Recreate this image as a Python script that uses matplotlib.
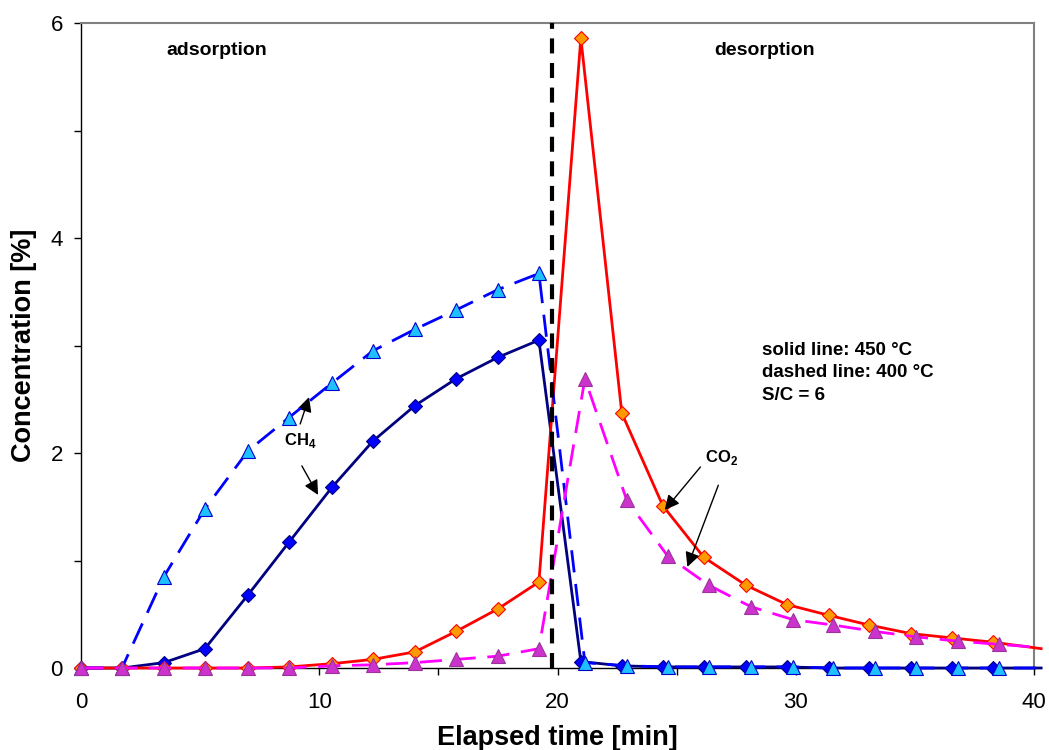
import numpy as np
import matplotlib
matplotlib.use("Agg")
import matplotlib.pyplot as plt
from matplotlib.ticker import MultipleLocator

plt.rcParams['font.family'] = ['Liberation Sans', 'DejaVu Sans']
plt.rcParams['mathtext.fontset'] = 'custom'
plt.rcParams['mathtext.rm'] = 'Liberation Sans'
plt.rcParams['mathtext.bf'] = 'Liberation Sans:bold'

# tid [min] (sista punkten ligger strax utanför x-axeln)
t_450 = [0, 1.72, 3.48, 5.20, 7.01, 8.73, 10.53, 12.25, 14.01, 15.74, 17.50, 19.22,
         20.98, 22.70, 24.42, 26.14, 27.91, 29.63, 31.39, 33.07, 34.83, 36.55, 38.27, 40.3]
t_400 = [0, 1.72, 3.48, 5.20, 7.01, 8.73, 10.53, 12.25, 14.01, 15.74, 17.50, 19.22,
         21.15, 22.91, 24.63, 26.35, 28.12, 29.88, 31.56, 33.32, 35.04, 36.80, 38.52, 40.3]

# koncentrationer [%]
ch4_450 = [0, 0, 0.05, 0.18, 0.68, 1.17, 1.68, 2.11, 2.44, 2.69, 2.89, 3.05,
           0.06, 0.02, 0.01, 0.01, 0.01, 0.01, 0.0, 0.0, 0.0, 0.0, 0.0, 0.0]
co2_450 = [0, 0, 0, 0, 0, 0.01, 0.04, 0.08, 0.15, 0.34, 0.55, 0.80,
           5.86, 2.37, 1.51, 1.03, 0.77, 0.59, 0.49, 0.40, 0.32, 0.28, 0.24, 0.18]
ch4_400 = [0, 0, 0.85, 1.48, 2.02, 2.33, 2.65, 2.95, 3.15, 3.33, 3.52, 3.67,
           0.05, 0.02, 0.01, 0.01, 0.01, 0.01, 0.0, 0.0, 0.0, 0.0, 0.0, 0.0]
co2_400 = [0, 0, 0, 0, 0, 0, 0.02, 0.03, 0.05, 0.08, 0.11, 0.18,
           2.69, 1.56, 1.04, 0.77, 0.57, 0.45, 0.40, 0.34, 0.29, 0.25, 0.22, 0.19]

t_switch = 19.77  # byte adsorption -> desorption

fig = plt.figure(figsize=(10.49, 7.5), dpi=100)
ax = fig.add_axes([81/1049, 1-668/750, (1034-81)/1049, (668-23)/750])

mev = list(range(len(t_450)-1))  # ingen markör på sista punkten
dash = (8, 4.2)

ax.plot(t_450, ch4_450, color='#000080', lw=2, marker='D', ms=7.5, mfc='#0000FF',
        mec='#000080', mew=0.8, markevery=mev, clip_on=False, zorder=3)
ax.plot(t_450, co2_450, color='#FF0000', lw=2, marker='D', ms=7.5, mfc='#FF9900',
        mec='#FF0000', mew=0.8, markevery=mev, clip_on=False, zorder=3)
ax.plot(t_400, ch4_400, color='#0000FF', lw=2, dashes=dash, marker='^', ms=9.5, mfc='#1EC0FF',
        mec='#0000CC', mew=0.8, markevery=mev, clip_on=False, zorder=4)
ax.plot(t_400, co2_400, color='#FF00FF', lw=2, dashes=dash, marker='^', ms=9.5, mfc='#CC33CC',
        mec='#993399', mew=0.8, markevery=mev, clip_on=False, zorder=4)

ax.axvline(t_switch, color='black', lw=3, dashes=(3.6, 2.3), zorder=5)

ax.set_xlim(0, 40)
ax.set_ylim(0, 6)
ax.xaxis.set_major_locator(MultipleLocator(10))
ax.xaxis.set_minor_locator(MultipleLocator(5))
ax.yaxis.set_major_locator(MultipleLocator(2))
ax.yaxis.set_minor_locator(MultipleLocator(1))
ax.tick_params(which='both', direction='out', length=5, width=1, labelsize=16)
ax.tick_params(axis='x', pad=12)
ax.tick_params(axis='y', pad=8)

for s in ['top', 'right']:
    ax.spines[s].set_color('#808080')
    ax.spines[s].set_linewidth(1.5)
for s in ['left', 'bottom']:
    ax.spines[s].set_color('black')
    ax.spines[s].set_linewidth(1)

ax.set_xlabel('Elapsed time [min]', fontsize=19.5, fontweight='bold', labelpad=9)
ax.set_ylabel('Concentration [%]', fontsize=19.5, fontweight='bold', labelpad=10)

ax.text(5.7, 5.74, 'adsorption', fontsize=14, fontweight='bold', ha='center', va='center')
ax.text(28.7, 5.74, 'desorption', fontsize=14, fontweight='bold', ha='center', va='center')
ax.text(28.6, 3.03, 'solid line: 450 °C\ndashed line: 400 °C\nS/C = 6', fontsize=13.5,
        fontweight='bold', ha='left', va='top', linespacing=1.4)

# pilar och etiketter
ap = dict(arrowstyle='-|>', color='black', lw=1, mutation_scale=22, shrinkA=0, shrinkB=0)
ax.text(9.2, 2.12, r'CH$_\mathbf{4}$', fontsize=12, fontweight='bold', ha='center', va='center')
ax.annotate('', xy=(9.57, 2.52), xytext=(9.2, 2.27), arrowprops=ap)
ax.annotate('', xy=(9.95, 1.61), xytext=(9.27, 1.88), arrowprops=ap)

ax.text(26.9, 1.96, r'CO$_\mathbf{2}$', fontsize=12, fontweight='bold', ha='center', va='center')
ax.annotate('', xy=(24.5, 1.47), xytext=(26.0, 1.87), arrowprops=ap)
ax.annotate('', xy=(25.45, 0.94), xytext=(26.75, 1.7), arrowprops=ap)

fig.savefig('out.png', dpi=100)
